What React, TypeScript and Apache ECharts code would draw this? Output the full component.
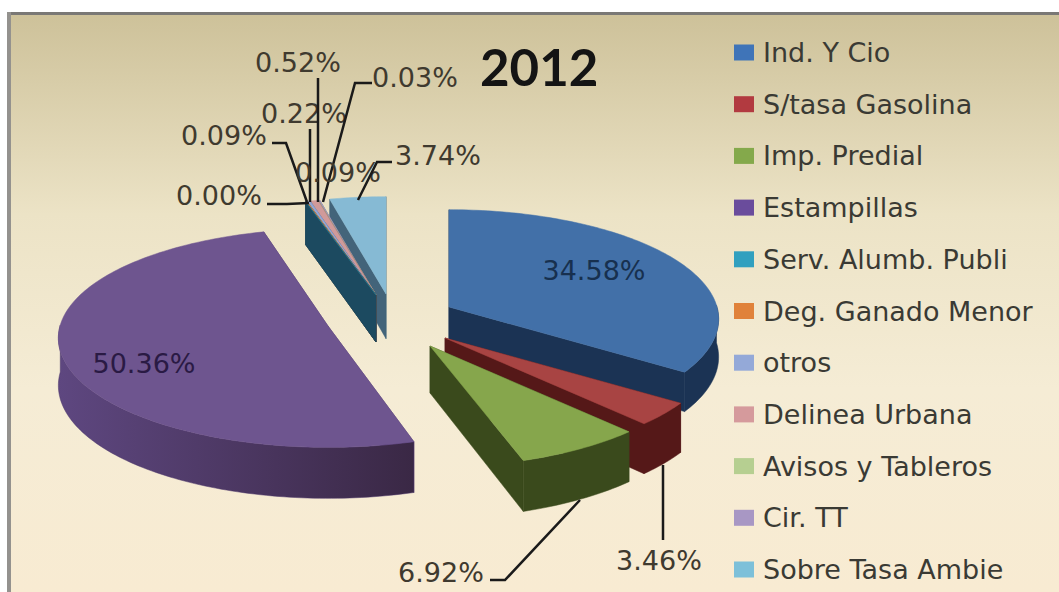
import React, { useEffect, useRef } from "react";
import * as echarts from "echarts";

// ---- data ----
const categories = [
  "Ind. Y Cio", "S/tasa Gasolina", "Imp. Predial", "Estampillas", "Serv. Alumb. Publi",
  "Deg. Ganado Menor", "otros", "Delinea Urbana", "Avisos y Tableros", "Cir. TT", "Sobre Tasa Ambie",
];
const shares = [34.58, 3.46, 6.92, 50.36, 0.0, 0.09, 0.22, 0.52, 0.03, 0.09, 3.74];
const title = "2012";

// ---- styles ----
const legendColors = ["#3f74b8", "#b23a40", "#84a94b", "#6a4c9c", "#31a0bf", "#e0823a", "#94a9d8", "#d59a9c", "#b6cf91", "#a897c4", "#7dc0d9"];
const topColors = ["#4270a8", "#a84443", "#86a64c", "#6e558f", "#2b7f97", "#d98a4a", "#94a7d4", "#d09a9a", "#b9cf8f", "#a99cc6", "#86bad4"];
const wallColors = ["#1b3354", "#551818", "#3a4a1c", "#4a3568", "#1c4a60", "#6e4a2a", "#55607c", "#6e5050", "#5c6a48", "#5a5070", "#43647a"];
const wallEdgeColors = ["#1b3354", "#551818", "#3a4a1c", "#3a2845", "#1c4a60", "#6e4a2a", "#55607c", "#6e5050", "#5c6a48", "#5a5070", "#50606c"];
// stacking of the slices, back to front
const sliceZ = [12, 13, 14, 11, 10, 9, 8, 7, 6, 5, 4];

// ---- layout of the exploded, tilted pie ----
const RX = 268;
const RY = 108;
const PERSPECTIVE = 0.11;
const apexes: [number, number][] = [
  [449, 307], [445, 338], [430, 346], [328, 326], [376, 295], [376, 295],
  [376, 295], [376, 295], [376, 295], [376, 295], [386, 294],
];
const depthScale = [0.8, 1, 1, 1, 1, 1, 1, 1, 1, 1, 0.95];
const viewTurn = [0, 0, 0, 1.5, 0, 0, 0, 0, 0, 0, 0]; // degrees the drawn slice is turned
const depthAt = (y: number) => 47 + 4 * y;

// label centre, colour, and leader polyline
const labelCentres: [number, number][] = [
  [594, 270], [659, 560], [441, 572], [144, 363], [219, 195], [224, 135],
  [304, 113], [298, 62], [415, 77], [338, 172], [438, 155],
];
const labelColors = ["#17304f", "#3f3a2f", "#3f3a2f", "#2a1a44", "#3f3a2f", "#3f3a2f", "#3f3a2f", "#3f3a2f", "#3f3a2f", "#3f3a2f", "#3f3a2f"];
const leaders: [number, number][][] = [
  [],
  [[663, 465], [663, 540]],
  [[490, 580], [505, 580], [580, 500]],
  [],
  [[267, 204], [287, 204], [309, 203]],
  [[272, 143], [286, 143], [307, 202]],
  [[310, 129], [310, 202]],
  [[318, 78], [318, 202]],
  [[372, 83], [355, 83], [323, 202]],
  [],
  [[392, 162], [377, 162], [358, 200]],
];

const total = shares.reduce((a, b) => a + b, 0);
const cumulative = shares.map((_, i) => shares.slice(0, i).reduce((a, b) => a + b, 0));

function project(apex: [number, number], theta: number): [number, number, number] {
  const X = Math.sin(theta);
  const Y = -Math.cos(theta);
  const s = 1 / (1 - PERSPECTIVE * Y);
  return [apex[0] + RX * X * s, apex[1] + RY * Y * s, Y];
}

function arcPoints(apex: [number, number], a0: number, a1: number) {
  const n = Math.max(2, Math.ceil(Math.abs(a1 - a0) / 0.02));
  const pts: [number, number, number][] = [];
  for (let k = 0; k <= n; k++) pts.push(project(apex, a0 + ((a1 - a0) * k) / n));
  return pts;
}

function sliceRenderer(i: number) {
  return () => {
    const turn = (viewTurn[i] * Math.PI) / 180;
    const a0 = (cumulative[i] / total) * Math.PI * 2 + turn;
    const a1 = ((cumulative[i] + shares[i]) / total) * Math.PI * 2 + turn;
    const apex = apexes[i];
    const arc = arcPoints(apex, a0, a1);
    const children: any[] = [];
    const wall = wallColors[i];
    const depth = (y: number) => depthAt(y) * depthScale[i];
    const poly = (points: number[][], fill: any) => ({
      type: "polygon",
      shape: { points },
      style: { fill, stroke: typeof fill === "string" ? fill : wall, lineWidth: 0.5 },
    });
    const d0 = depth(0);
    // the two radial faces
    const startPt = arc[0];
    const endPt = arc[arc.length - 1];
    children.push(poly([[apex[0], apex[1]], [startPt[0], startPt[1]], [startPt[0], startPt[1] + depth(startPt[2])], [apex[0], apex[1] + d0]], wall));
    children.push(poly([[apex[0], apex[1]], [endPt[0], endPt[1]], [endPt[0], endPt[1] + depth(endPt[2])], [apex[0], apex[1] + d0]], wall));
    // outer rim: only the part that faces the viewer
    const visible = arc.filter((p) => p[2] > -0.02);
    if (visible.length > 1) {
      const rim = [
        ...visible.map((p) => [p[0], p[1]]),
        ...visible.slice().reverse().map((p) => [p[0], p[1] + depth(p[2])]),
      ];
      const xs = visible.map((p) => p[0]);
      children.push(
        poly(rim, {
          type: "linear",
          x: Math.min(...xs),
          y: 0,
          x2: Math.max(...xs),
          y2: 0,
          global: true,
          colorStops: [
            { offset: 0, color: i === 3 ? "#5e4780" : wall },
            { offset: 1, color: wallEdgeColors[i] },
          ],
        })
      );
    }
    // top face
    children.push(poly([[apex[0], apex[1]], ...arc.map((p) => [p[0], p[1]])], topColors[i]));
    return { type: "group", children };
  };
}

function labelRenderer(_: any, api: any) {
  const i = api.value(0);
  const children: any[] = [];
  if (leaders[i].length) {
    children.push({
      type: "polyline",
      shape: { points: leaders[i] },
      style: { stroke: "#1a1a1a", lineWidth: 2.5, fill: "none" },
    });
  }
  children.push({
    type: "text",
    style: {
      x: labelCentres[i][0],
      y: labelCentres[i][1],
      text: shares[i].toFixed(2) + "%",
      fill: labelColors[i],
      font: "27px 'DejaVu Sans'",
      textAlign: "center",
      textVerticalAlign: "middle",
    },
  });
  return { type: "group", children };
}

export default function App() {
  const ref = useRef<HTMLDivElement>(null);
  useEffect(() => {
    const chart = echarts.init(ref.current!, undefined, { renderer: "svg" });
    chart.setOption({
      animation: false,
      backgroundColor: "#ffffff",
      title: {
        text: title,
        left: 475,
        top: 36,
        textStyle: { fontFamily: "Lato", fontWeight: "bold", fontSize: 51, color: "#141414" },
      },
      legend: {
        show: true,
        orient: "vertical",
        left: 729,
        top: 34,
        data: categories,
        selectedMode: false,
        icon: "rect",
        itemWidth: 20,
        itemHeight: 16,
        itemGap: 24.7,
        textStyle: { fontFamily: "DejaVu Sans", fontSize: 27, color: "#3a3a34", padding: [0, 0, 0, 4] },
      },
      graphic: [
        {
          type: "rect",
          z: -10,
          shape: { x: 7, y: 12, width: 1052, height: 580 },
          style: {
            fill: {
              type: "linear",
              x: 0,
              y: 0,
              x2: 0,
              y2: 1,
              colorStops: [
                { offset: 0, color: "#cdc199" },
                { offset: 0.35, color: "#ece3c6" },
                { offset: 0.65, color: "#f5ecd5" },
                { offset: 1, color: "#f8ebd2" },
              ],
            },
          },
        },
        { type: "rect", z: -9, shape: { x: 7, y: 12, width: 1052, height: 3 }, style: { fill: "#7a7875" } },
        { type: "rect", z: -9, shape: { x: 7, y: 12, width: 4, height: 580 }, style: { fill: "#94928e" } },
      ],
      series: [
        ...categories.map((name, i) => ({
          type: "custom",
          name,
          coordinateSystem: "none",
          z: sliceZ[i],
          itemStyle: { color: legendColors[i] },
          data: [[shares[i]]],
          silent: true,
          renderItem: sliceRenderer(i),
        })),
        {
          type: "custom",
          name: "labels",
          coordinateSystem: "none",
          z: 30,
          silent: true,
          data: categories.map((_, i) => [i]),
          renderItem: labelRenderer,
        },
      ],
    });
    return () => chart.dispose();
  }, []);
  return <div ref={ref} style={{ position: "absolute", left: 0, top: 0, width: 1059, height: 592 }} />;
}
